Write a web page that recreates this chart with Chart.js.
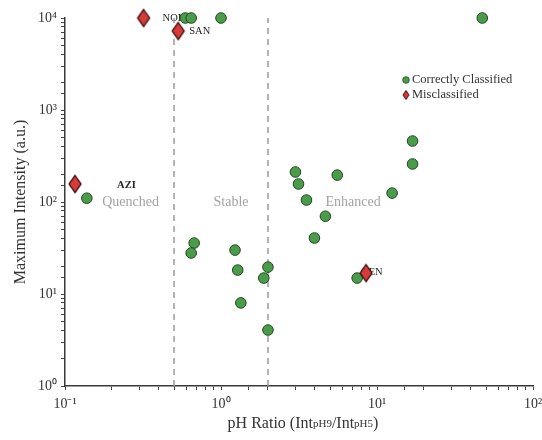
<!DOCTYPE html>
<html>
<head>
<meta charset="utf-8">
<script src="https://cdn.jsdelivr.net/npm/chart.js@4.4.1/dist/chart.umd.min.js"></script>
<style>
html, body { margin: 0; padding: 0; background: #fff; }
#wrap { width: 542px; height: 440px; position: relative; }
</style>
</head>
<body>
<div id="wrap"><canvas id="myChart"></canvas></div>
<script>
// correctly classified compounds: pH ratio (x) vs max intensity (y)
const correctX = [0.138, 0.59, 0.644, 1.0, 47.3, 16.9, 16.9, 3.0, 3.14, 5.56, 3.53, 12.5, 4.67, 3.97, 7.46, 0.673, 0.644, 1.23, 1.28, 1.34, 2.0, 1.88, 2.0];
const correctY = [110, 10000, 10000, 10000, 10000, 460, 259, 212, 157, 196, 105, 125, 70, 40.6, 14.9, 35.8, 27.9, 30, 18.2, 8.0, 19.6, 14.9, 4.06];

// misclassified compounds
const missNames = ['NOR', 'SAN', 'AZI', 'GEN'];
const missX = [0.319, 0.532, 0.116, 8.51];
const missY = [10000, 7230, 157, 16.9];

// zone boundaries on the pH ratio axis
const zoneBounds = [0.5, 2];
const zoneNames = ['Quenched', 'Stable', 'Enhanced'];

const xTicks = [0.1, 1, 10, 100];
const xTickLabels = ['10\u207B\u00B9', '10\u2070', '10\u00B9', '10\u00B2'];
const yTicks = [1, 10, 100, 1000, 10000];
const yTickLabels = ['10\u2070', '10\u00B9', '10\u00B2', '10\u00B3', '10\u2074'];

const SERIF = "'Liberation Serif', 'Times New Roman', serif";
const GREEN = '#4a9b4a';
const GREEN_EDGE = '#1f4a1f';
const RED = '#d83a3a';
const RED_EDGE = '#2e0a0a';

function diamond(w, h, lw) {
    const m = 3;
    const c = document.createElement('canvas');
    c.width = w + 2 * m;
    c.height = h + 2 * m;
    const g = c.getContext('2d');
    g.beginPath();
    g.moveTo(c.width / 2, m);
    g.lineTo(w + m, c.height / 2);
    g.lineTo(c.width / 2, h + m);
    g.lineTo(m, c.height / 2);
    g.closePath();
    g.fillStyle = RED;
    g.fill();
    g.lineWidth = lw;
    g.strokeStyle = RED_EDGE;
    g.stroke();
    return c;
}

const bigDiamond = diamond(12, 17, 1.3);
const smallDiamond = diamond(6, 9, 1);

function tickLabel(ticks, labels) {
    return function(value) {
        for (let i = 0; i < ticks.length; i++) {
            if (Math.abs(value - ticks[i]) / ticks[i] < 1e-6) return labels[i];
        }
        return '';
    };
}

const correctData = correctX.map((x, i) => ({ x: x, y: correctY[i] }));
const missData = missX.map((x, i) => ({ x: x, y: missY[i] }));

const boundSets = zoneBounds.map(b => ({
    type: 'line',
    data: [{ x: b, y: 1 }, { x: b, y: 10000 }],
    borderColor: '#9c9c9c',
    borderWidth: 1.5,
    borderDash: [6, 5],
    pointRadius: 0,
    fill: false,
    order: 3
}));

// text overlays: zone names, compound names, legend, x title with subscripts
const overlays = {
    id: 'overlays',
    beforeDatasetsDraw(chart) {
        const ctx = chart.ctx;
        const xs = chart.scales.x, ys = chart.scales.y;
        const zoneX = [0.263, 1.16, 7.03];
        ctx.save();
        ctx.font = '14px ' + SERIF;
        ctx.fillStyle = '#a3a3a3';
        ctx.textAlign = 'center';
        ctx.textBaseline = 'middle';
        zoneNames.forEach((n, i) => {
            ctx.fillText(n, xs.getPixelForValue(zoneX[i]), ys.getPixelForValue(98));
        });

        const offs = { NOR: [19, 0], SAN: [11, 0], AZI: [42, 1], GEN: [-5, -1] };
        const meta = chart.getDatasetMeta(1);
        ctx.fillStyle = '#262626';
        ctx.textAlign = 'left';
        missNames.forEach((n, i) => {
            const pt = meta.data[i];
            ctx.font = (n === 'AZI' ? 'bold ' : '') + '10.5px ' + SERIF;
            ctx.fillText(n, pt.x + offs[n][0], pt.y + offs[n][1]);
        });
        ctx.restore();
    },
    afterDraw(chart) {
        const ctx = chart.ctx;
        const area = chart.chartArea;
        ctx.save();
        // legend
        ctx.font = '12.5px ' + SERIF;
        ctx.textBaseline = 'middle';
        ctx.textAlign = 'left';
        ctx.beginPath();
        ctx.arc(406, 80, 3.3, 0, Math.PI * 2);
        ctx.fillStyle = GREEN;
        ctx.fill();
        ctx.lineWidth = 0.8;
        ctx.strokeStyle = GREEN_EDGE;
        ctx.stroke();
        ctx.drawImage(smallDiamond, 406 - smallDiamond.width / 2, 95 - smallDiamond.height / 2);
        ctx.fillStyle = '#333';
        ctx.fillText('Correctly Classified', 412, 80);
        ctx.fillText('Misclassified', 412, 95);

        // x axis title with subscripts
        const parts = [
            ['pH Ratio (Int', false], ['pH9', true], ['/Int', false], ['pH5', true], [')', false]
        ];
        const big = '16px ' + SERIF, small = '11px ' + SERIF;
        let total = 0;
        parts.forEach(p => { ctx.font = p[1] ? small : big; total += ctx.measureText(p[0]).width; });
        let x = (area.left + area.right) / 2 + 4 - total / 2;
        const y = 423;
        ctx.textBaseline = 'alphabetic';
        ctx.fillStyle = '#333';
        parts.forEach(p => {
            ctx.font = p[1] ? small : big;
            ctx.fillText(p[0], x, p[1] ? y + 4 : y + 5);
            x += ctx.measureText(p[0]).width;
        });
        ctx.restore();
    }
};

new Chart(document.getElementById('myChart'), {
    type: 'scatter',
    data: {
        datasets: [
            {
                label: 'Correctly Classified',
                data: correctData,
                pointStyle: 'circle',
                pointRadius: 5.3,
                backgroundColor: GREEN,
                borderColor: GREEN_EDGE,
                borderWidth: 1,
                clip: false,
                order: 2
            },
            {
                label: 'Misclassified',
                data: missData,
                pointStyle: bigDiamond,
                pointRadius: 8,
                backgroundColor: RED,
                borderColor: RED_EDGE,
                clip: false,
                order: 1
            }
        ].concat(boundSets)
    },
    options: {
        responsive: true,
        maintainAspectRatio: false,
        animation: false,
        events: [],
        layout: { padding: { top: 18, right: 0, left: 0, bottom: 0 } },
        plugins: {
            legend: { display: false },
            tooltip: { enabled: false }
        },
        scales: {
            x: {
                type: 'logarithmic',
                min: 0.1,
                max: 100,
                border: { display: true, color: '#3a3a3a', width: 1.5 },
                grid: { drawOnChartArea: false, drawTicks: true, tickLength: 4, color: '#444' },
                ticks: {
                    autoSkip: false,
                    maxRotation: 0,
                    padding: 6,
                    color: '#333',
                    font: { family: SERIF, size: 14 },
                    callback: tickLabel(xTicks, xTickLabels)
                },
                afterFit: (scale) => { scale.height = 54; scale.paddingRight = 0; }
            },
            y: {
                type: 'logarithmic',
                min: 1,
                max: 10000,
                border: { display: true, color: '#3a3a3a', width: 1.5 },
                grid: { drawOnChartArea: false, drawTicks: true, tickLength: 4, color: '#444' },
                ticks: {
                    autoSkip: false,
                    padding: 4,
                    color: '#333',
                    font: { family: SERIF, size: 14 },
                    callback: tickLabel(yTicks, yTickLabels)
                },
                title: {
                    display: true,
                    text: 'Maximum Intensity (a.u.)',
                    color: '#333',
                    font: { family: SERIF, size: 16 },
                    padding: { top: 11, bottom: 0 }
                },
                afterFit: (scale) => { scale.width = 65; scale.paddingTop = 0; }
            }
        }
    },
    plugins: [overlays]
});
</script>
</body>
</html>
